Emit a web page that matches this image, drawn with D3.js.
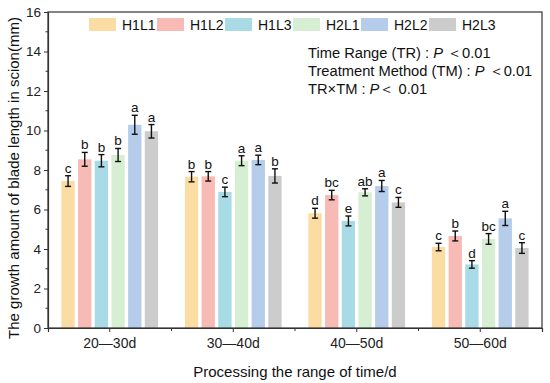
<!DOCTYPE html>
<html>
<head>
<meta charset="utf-8">
<script src="https://cdn.jsdelivr.net/npm/d3@7"></script>
<style>
  body { margin: 0; background: #fff; }
  svg { display: block; font-family: "Liberation Sans", Arial, sans-serif; }
</style>
</head>
<body>
<svg></svg>
<script>
var width = 550,
    height = 383;

// data
var periods = ["20\u201430d", "30\u201440d", "40\u201450d", "50\u201460d"];
var treatments = ["H1L1", "H1L2", "H1L3", "H2L1", "H2L2", "H2L3"];
var colors = ["#fbdca2", "#f8bab4", "#a8dbe6", "#d6eed2", "#b5cdeb", "#cccccc"];

// rows = periods, columns = treatments
var means = [
  [7.44, 8.54, 8.47, 8.76, 10.29, 9.96],
  [7.66, 7.68, 6.89, 8.47, 8.51, 7.70],
  [5.81, 6.73, 5.42, 6.87, 7.19, 6.36],
  [4.10, 4.66, 3.22, 4.51, 5.55, 4.05]
];
var errors = [
  [0.27, 0.35, 0.31, 0.33, 0.48, 0.34],
  [0.26, 0.24, 0.24, 0.25, 0.24, 0.36],
  [0.25, 0.24, 0.25, 0.18, 0.28, 0.25],
  [0.19, 0.25, 0.19, 0.27, 0.36, 0.27]
];
var letters = [
  ["c", "b", "b", "b", "a", "a"],
  ["b", "b", "c", "a", "a", "b"],
  ["d", "bc", "e", "ab", "a", "c"],
  ["c", "b", "d", "bc", "a", "c"]
];
var yTicks = [0, 2, 4, 6, 8, 10, 12, 14, 16];

var margin = {left: 48, right: 8, top: 12, bottom: 55};
var plotW = width - margin.left - margin.right,
    plotH = height - margin.top - margin.bottom;

var svg = d3.select("svg")
    .attr("width", width)
    .attr("height", height);

var g = svg.append("g")
    .attr("transform", "translate(" + margin.left + "," + margin.top + ")");

var x0 = d3.scaleBand()
    .domain(periods)
    .range([0, plotW])
    .paddingInner(0.19)
    .paddingOuter(0.095);

var x1 = d3.scaleBand()
    .domain(treatments)
    .range([0, x0.bandwidth()])
    .paddingInner(0.2)
    .paddingOuter(0.1);

var y = d3.scaleLinear()
    .domain([0, 16])
    .range([plotH, 0]);

var color = d3.scaleOrdinal().domain(treatments).range(colors);

// flatten into records
var records = [];
periods.forEach(function(p, i) {
  treatments.forEach(function(t, j) {
    records.push({period: p, treat: t, mean: means[i][j], err: errors[i][j], letter: letters[i][j]});
  });
});

//bars
g.selectAll(".bar")
    .data(records)
  .enter().append("rect")
    .attr("class", "bar")
    .attr("x", function(d) { return x0(d.period) + x1(d.treat); })
    .attr("width", x1.bandwidth())
    .attr("y", function(d) { return y(d.mean); })
    .attr("height", function(d) { return plotH - y(d.mean); })
    .attr("fill", function(d) { return color(d.treat); });

//error bars
var eb = g.selectAll(".err")
    .data(records)
  .enter().append("g")
    .attr("class", "err")
    .attr("transform", function(d) { return "translate(" + (x0(d.period) + x1(d.treat) + x1.bandwidth() / 2) + ",0)"; })
    .attr("stroke", "#111")
    .attr("stroke-width", 1.4);

eb.append("line")
    .attr("y1", function(d) { return y(d.mean - d.err); })
    .attr("y2", function(d) { return y(d.mean + d.err); });
eb.append("line")
    .attr("x1", -3).attr("x2", 3)
    .attr("y1", function(d) { return y(d.mean + d.err); })
    .attr("y2", function(d) { return y(d.mean + d.err); });
eb.append("line")
    .attr("x1", -3).attr("x2", 3)
    .attr("y1", function(d) { return y(d.mean - d.err); })
    .attr("y2", function(d) { return y(d.mean - d.err); });

//significance letters
g.selectAll(".letter")
    .data(records)
  .enter().append("text")
    .attr("class", "letter")
    .attr("x", function(d) { return x0(d.period) + x1(d.treat) + x1.bandwidth() / 2; })
    .attr("y", function(d) { return y(d.mean + d.err) - 3; })
    .attr("text-anchor", "middle")
    .style("font-size", "13.5px")
    .attr("fill", "#111")
    .text(function(d) { return d.letter; });

//frame
g.append("rect")
    .attr("width", plotW)
    .attr("height", plotH)
    .attr("fill", "none")
    .attr("stroke", "#333")
    .attr("stroke-width", 1.2);

//y axis
var yAxis = g.append("g")
    .call(d3.axisLeft(y).tickValues(yTicks).tickSize(4).tickPadding(3));
yAxis.select(".domain").attr("stroke", "#333").attr("stroke-width", 1.2);
yAxis.selectAll(".tick line").attr("stroke", "#333");
yAxis.selectAll("text").style("font-size", "13.5px").attr("fill", "#222");
yAxis.append("g")
    .selectAll("line")
    .data(d3.range(1, 16, 2))
  .enter().append("line")
    .attr("x1", -2.5).attr("x2", 0)
    .attr("y1", function(d) { return y(d); })
    .attr("y2", function(d) { return y(d); })
    .attr("stroke", "#333");

//x axis
var xAxis = g.append("g")
    .attr("transform", "translate(0," + plotH + ")")
    .call(d3.axisBottom(x0).tickSize(4).tickPadding(6));
xAxis.select(".domain").attr("stroke", "#333").attr("stroke-width", 1.2);
xAxis.selectAll(".tick line").attr("stroke", "#333");
xAxis.selectAll("text").style("font-size", "14px").attr("fill", "#222");
xAxis.append("g")
    .selectAll("line")
    .data(periods.slice(1))
  .enter().append("line")
    .attr("x1", function(d) { return x0(d) - x0.step() * x0.paddingInner() / 2; })
    .attr("x2", function(d) { return x0(d) - x0.step() * x0.paddingInner() / 2; })
    .attr("y1", 0).attr("y2", 3)
    .attr("stroke", "#333");

//axis titles
svg.append("text")
    .attr("transform", "translate(19," + (margin.top + plotH / 2 + 8) + ") rotate(-90)")
    .attr("text-anchor", "middle")
    .style("font-size", "15px")
    .attr("fill", "#111")
    .text("The growth amount of blade length in scion(mm)");

svg.append("text")
    .attr("x", margin.left + plotW / 2)
    .attr("y", 377)
    .attr("text-anchor", "middle")
    .style("font-size", "15px")
    .attr("fill", "#111")
    .text("Processing the range of time/d");

//legend
var legend = svg.append("g")
    .attr("transform", "translate(89,18)");
var item = legend.selectAll(".leg")
    .data(treatments)
  .enter().append("g")
    .attr("class", "leg")
    .attr("transform", function(d, i) { return "translate(" + (i * 68) + ",0)"; });
item.append("rect")
    .attr("width", 27)
    .attr("height", 13)
    .attr("fill", function(d) { return color(d); });
item.append("text")
    .attr("x", 33)
    .attr("y", 12)
    .style("font-size", "14px")
    .attr("fill", "#111")
    .text(function(d) { return d; });

//statistics note
var notes = [
  ["Time Range (TR) : ", "P", " \uff1c0.01"],
  ["Treatment Method (TM) : ", "P", " \uff1c0.01"],
  ["TR\u00d7TM : ", "P", "\uff1c 0.01"]
];
var note = svg.append("g")
    .attr("transform", "translate(308,57.5)");
notes.forEach(function(n, i) {
  var t = note.append("text")
      .attr("y", i * 18)
      .style("font-size", "14.7px")
      .attr("fill", "#111");
  t.append("tspan").text(n[0]);
  t.append("tspan").style("font-style", "italic").text(n[1]);
  t.append("tspan").text(n[2]);
});
</script>
</body>
</html>
